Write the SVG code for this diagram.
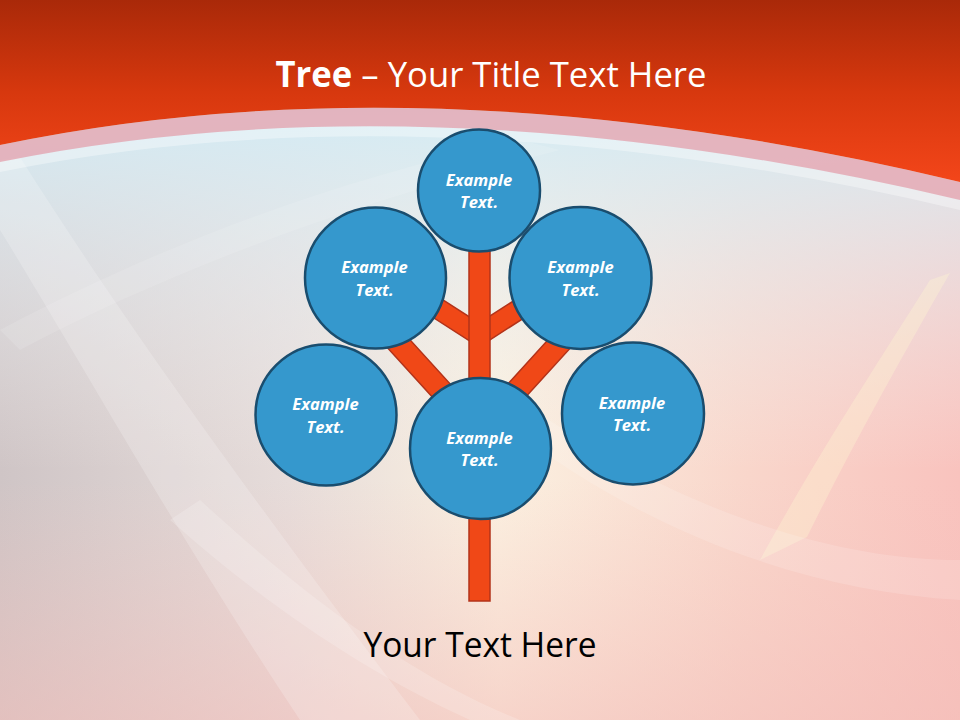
<svg xmlns="http://www.w3.org/2000/svg" width="960" height="720" viewBox="0 0 960 720">
<defs>
<linearGradient id="red" x1="0" y1="0" x2="0" y2="185" gradientUnits="userSpaceOnUse">
<stop offset="0" stop-color="#A92909"/><stop offset="0.5" stop-color="#D7380E"/><stop offset="1" stop-color="#F4461A"/>
</linearGradient>
<linearGradient id="bgH" x1="0" y1="0" x2="1" y2="0">
<stop offset="0" stop-color="#CFC5C6"/><stop offset="0.3" stop-color="#E6DCDA"/><stop offset="0.52" stop-color="#FBF0E0"/><stop offset="0.78" stop-color="#F9D6CB"/><stop offset="1" stop-color="#F9C3BE"/>
</linearGradient>
<linearGradient id="bgV" x1="0" y1="110" x2="0" y2="470" gradientUnits="userSpaceOnUse">
<stop offset="0" stop-color="#D3EBF4" stop-opacity="1"/><stop offset="0.45" stop-color="#E3ECF1" stop-opacity="0.55"/><stop offset="1" stop-color="#F2F0EE" stop-opacity="0"/>
</linearGradient>
<linearGradient id="bot" x1="0" y1="480" x2="0" y2="720" gradientUnits="userSpaceOnUse">
<stop offset="0" stop-color="#F5C2BC" stop-opacity="0"/><stop offset="1" stop-color="#F3BDB8" stop-opacity="0.55"/>
</linearGradient>
<style>
.node circle{fill:#3598CD;stroke:#1A4D6E;stroke-width:2.5}
.node text{font-family:"Open Sans","Liberation Sans",sans-serif;font-weight:bold;font-style:italic;font-size:16.5px;fill:#FFFFFF;text-anchor:middle}
.bar{fill:#F04817;stroke:#B3331A;stroke-width:1.5}
.streak{fill:#FFFFFF}
</style>
</defs>
<g id="background">
<rect width="960" height="720" fill="url(#bgH)"/>
<rect width="960" height="720" fill="url(#bgV)"/>
<rect width="960" height="720" fill="url(#bot)"/>
<path class="streak" d="M20,157 C110,300 230,470 420,720 L300,720 C180,540 80,360 0,230 L0,160 Z" opacity="0.2"/>
<path class="streak" d="M0,330 C150,250 330,180 520,140 L560,150 C360,200 170,270 20,350 Z" opacity="0.12"/>
<path d="M950,273 C900,360 850,450 807,537 L760,560 C820,450 880,360 930,280 Z" fill="#FFF6D0" opacity="0.35"/>
<path class="streak" d="M520,400 C660,500 820,560 960,560 L960,600 C800,590 640,530 500,420 Z" opacity="0.15"/>
<path class="streak" d="M200,500 C320,610 420,680 520,720 L470,720 C360,670 260,600 170,520 Z" opacity="0.18"/>
<path d="M0,145 Q430,55 960,182 L960,210 Q430,85 0,172 Z" fill="#FFFFFF" opacity="0.35"/>
<path d="M0,145 Q430,55 960,182 L960,200 Q430,75 0,162 Z" fill="#E39AA6" opacity="0.7"/>
<path d="M0,0 H960 V182 Q430,55 0,145 Z" fill="url(#red)"/>
</g>
<text x="491" y="87" font-family="'Open Sans','Liberation Sans',sans-serif" font-size="35" fill="#FFFFFF" text-anchor="middle" textLength="431" lengthAdjust="spacingAndGlyphs"><tspan font-weight="bold">Tree</tspan> – Your Title Text Here</text>
<g id="connectors">
<rect class="bar" x="0" y="-11" width="162" height="22" transform="translate(479,432) rotate(-132.3)"/>
<rect class="bar" x="0" y="-11" width="162" height="22" transform="translate(479,432) rotate(-47.7)"/>
<rect class="bar" x="0" y="-10" width="100" height="20" transform="translate(479,335) rotate(-147.3)"/>
<rect class="bar" x="0" y="-10" width="100" height="20" transform="translate(479,335) rotate(-32.7)"/>
<rect class="bar" x="469" y="240" width="21" height="361"/>
</g>
<g id="node-top" class="node"><circle cx="479" cy="190.5" r="61"/><text x="479" y="185.5">Example</text><text x="479" y="208">Text.</text></g>
<g id="node-upper-left" class="node"><circle cx="375.5" cy="278" r="70.5"/><text x="374.5" y="272.5">Example</text><text x="374.5" y="296">Text.</text></g>
<g id="node-upper-right" class="node"><circle cx="580.5" cy="278" r="71"/><text x="580.5" y="272.5">Example</text><text x="580.5" y="296">Text.</text></g>
<g id="node-left" class="node"><circle cx="326" cy="415" r="70.5"/><text x="325.5" y="410">Example</text><text x="325.5" y="433">Text.</text></g>
<g id="node-right" class="node"><circle cx="633" cy="413.5" r="71"/><text x="632" y="408.5">Example</text><text x="632" y="431">Text.</text></g>
<g id="node-bottom" class="node"><circle cx="480.5" cy="448.5" r="70.5"/><text x="479.5" y="443.5">Example</text><text x="479.5" y="466">Text.</text></g>
<text x="480" y="657" font-family="'Open Sans','Liberation Sans',sans-serif" font-size="35" fill="#000000" text-anchor="middle" textLength="233" lengthAdjust="spacingAndGlyphs">Your Text Here</text>
</svg>
